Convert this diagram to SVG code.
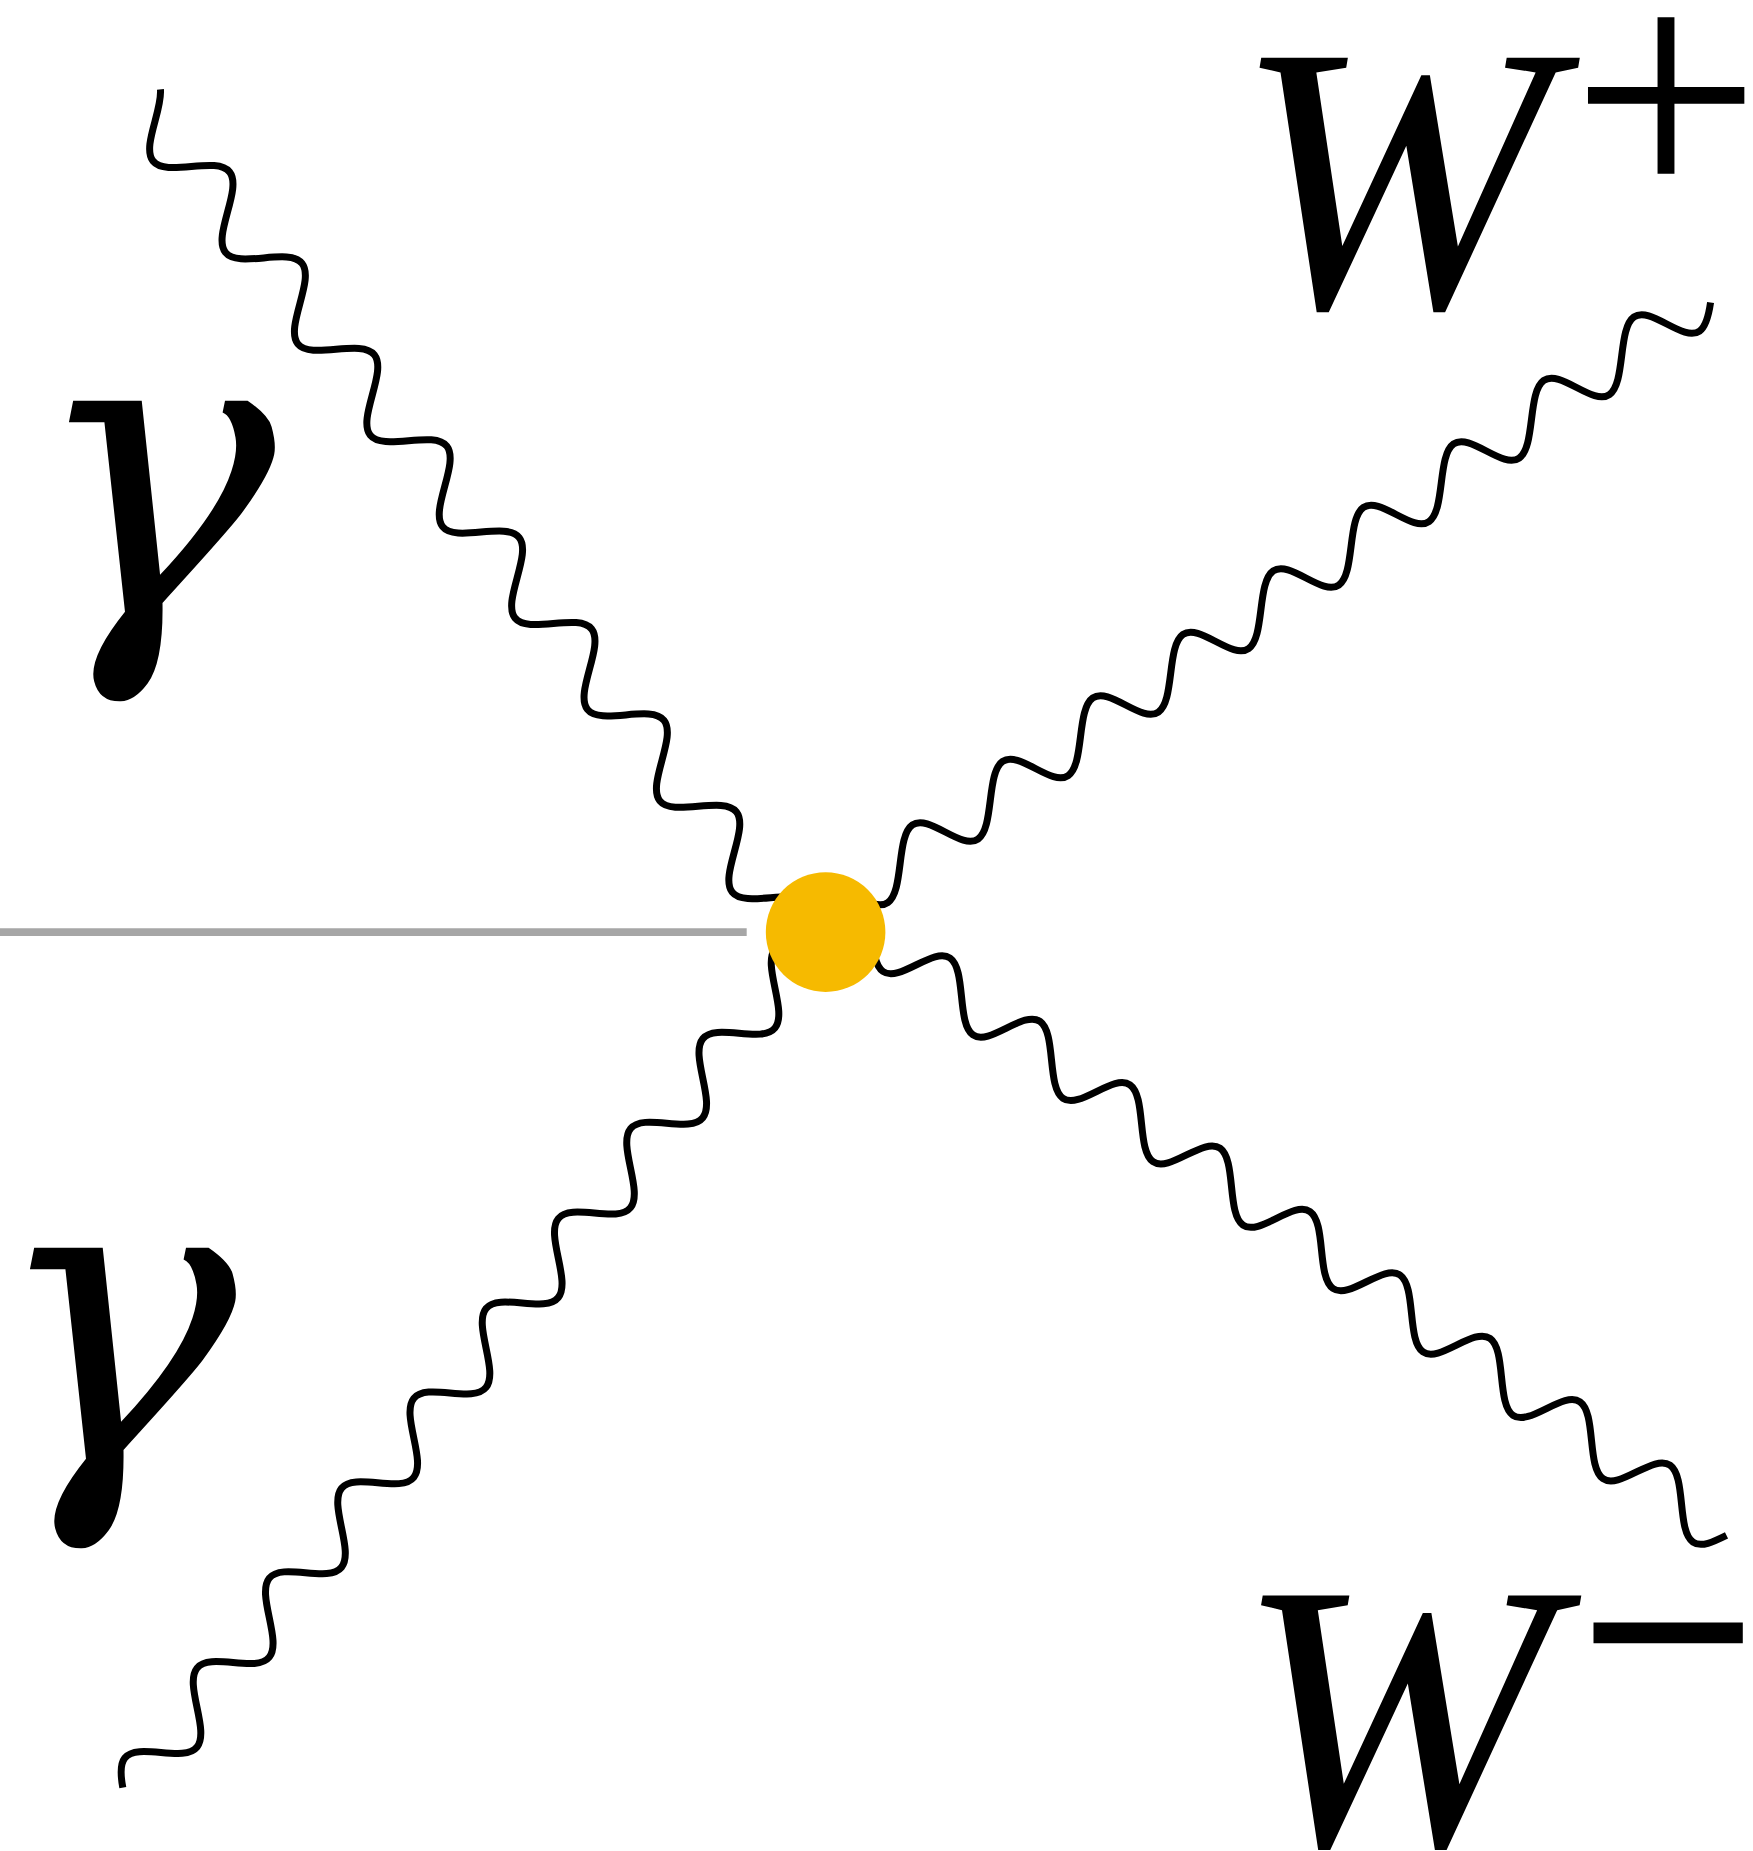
<svg xmlns="http://www.w3.org/2000/svg" width="1753" height="1851" viewBox="0 0 1753 1851">
<style>
.wave{fill:none;stroke:#000;stroke-width:7;stroke-linecap:butt;stroke-linejoin:round}
.lbl{font-family:"Liberation Serif","Times New Roman",serif;fill:#000}
.it{font-style:italic}
.gam{font-family:"DejaVu Serif",serif;font-style:italic;fill:#000}
</style>
<rect width="1753" height="1851" fill="#fff"/>
<g id="connectors">
<line id="gray-line" x1="0" y1="932.2" x2="746.7" y2="932.2" stroke="#a6a6a6" stroke-width="7.7"/>
<path id="photon-tl" class="wave" vector-effect="non-scaling-stroke" transform="matrix(18.1 22.85 20.2 -17.35 191.3 166.5)" d="M-2.7,.891 C-2.4667,.7246 -2.2333,.3665 -2,0
c.3261,-.5123 .6381,-1 1,-1 c.3619,0 .6739,.4877 1,1 c.3261,.5123 .6381,1 1,1 c.3619,0 .6739,-.4877 1,-1
c.3261,-.5123 .6381,-1 1,-1 c.3619,0 .6739,.4877 1,1 c.3261,.5123 .6381,1 1,1 c.3619,0 .6739,-.4877 1,-1
c.3261,-.5123 .6381,-1 1,-1 c.3619,0 .6739,.4877 1,1 c.3261,.5123 .6381,1 1,1 c.3619,0 .6739,-.4877 1,-1
c.3261,-.5123 .6381,-1 1,-1 c.3619,0 .6739,.4877 1,1 c.3261,.5123 .6381,1 1,1 c.3619,0 .6739,-.4877 1,-1
c.3261,-.5123 .6381,-1 1,-1 c.3619,0 .6739,.4877 1,1 c.3261,.5123 .6381,1 1,1 c.3619,0 .6739,-.4877 1,-1
c.3261,-.5123 .6381,-1 1,-1 c.3619,0 .6739,.4877 1,1 c.3261,.5123 .6381,1 1,1 c.3619,0 .6739,-.4877 1,-1
c.3261,-.5123 .6381,-1 1,-1 c.3619,0 .6739,.4877 1,1 c.3261,.5123 .6381,1 1,1 c.3619,0 .6739,-.4877 1,-1
c.3261,-.5123 .6381,-1 1,-1 c.3619,0 .6739,.4877 1,1 c.3261,.5123 .6381,1 1,1 c.3619,0 .6739,-.4877 1,-1
c.3261,-.5123 .6381,-1 1,-1 c.3619,0 .6739,.4877 1,1 c.3261,.5123 .6381,1 1,1"/>
<path id="photon-bl" class="wave" vector-effect="non-scaling-stroke" transform="matrix(18.0625 -22.475 18.05 17 160.9 1752.5)" d="M-1.8,-.309 C-1.5333,-.7074 -1.2667,-1 -1,-1
c.3619,0 .6739,.4877 1,1 c.3261,.5123 .6381,1 1,1 c.3619,0 .6739,-.4877 1,-1 c.3261,-.5123 .6381,-1 1,-1
c.3619,0 .6739,.4877 1,1 c.3261,.5123 .6381,1 1,1 c.3619,0 .6739,-.4877 1,-1 c.3261,-.5123 .6381,-1 1,-1
c.3619,0 .6739,.4877 1,1 c.3261,.5123 .6381,1 1,1 c.3619,0 .6739,-.4877 1,-1 c.3261,-.5123 .6381,-1 1,-1
c.3619,0 .6739,.4877 1,1 c.3261,.5123 .6381,1 1,1 c.3619,0 .6739,-.4877 1,-1 c.3261,-.5123 .6381,-1 1,-1
c.3619,0 .6739,.4877 1,1 c.3261,.5123 .6381,1 1,1 c.3619,0 .6739,-.4877 1,-1 c.3261,-.5123 .6381,-1 1,-1
c.3619,0 .6739,.4877 1,1 c.3261,.5123 .6381,1 1,1 c.3619,0 .6739,-.4877 1,-1 c.3261,-.5123 .6381,-1 1,-1
c.3619,0 .6739,.4877 1,1 c.3261,.5123 .6381,1 1,1 c.3619,0 .6739,-.4877 1,-1 c.3261,-.5123 .6381,-1 1,-1
c.3619,0 .6739,.4877 1,1 c.3261,.5123 .6381,1 1,1 c.3619,0 .6739,-.4877 1,-1 c.3261,-.5123 .6381,-1 1,-1
c.3619,0 .6739,.4877 1,1 c.3261,.5123 .6381,1 1,1 c.3619,0 .6739,-.4877 1,-1 c.3261,-.5123 .6381,-1 1,-1"/>
<path id="photon-tr" class="wave" vector-effect="non-scaling-stroke" transform="matrix(22.55 -15.875 10.25 22.9 945.2 832)" d="M-4,0
c.3261,.5123 .6381,1 1,1 c.3619,0 .6739,-.4877 1,-1 c.3261,-.5123 .6381,-1 1,-1 c.3619,0 .6739,.4877 1,1
c.3261,.5123 .6381,1 1,1 c.3619,0 .6739,-.4877 1,-1 c.3261,-.5123 .6381,-1 1,-1 c.3619,0 .6739,.4877 1,1
c.3261,.5123 .6381,1 1,1 c.3619,0 .6739,-.4877 1,-1 c.3261,-.5123 .6381,-1 1,-1 c.3619,0 .6739,.4877 1,1
c.3261,.5123 .6381,1 1,1 c.3619,0 .6739,-.4877 1,-1 c.3261,-.5123 .6381,-1 1,-1 c.3619,0 .6739,.4877 1,1
c.3261,.5123 .6381,1 1,1 c.3619,0 .6739,-.4877 1,-1 c.3261,-.5123 .6381,-1 1,-1 c.3619,0 .6739,.4877 1,1
c.3261,.5123 .6381,1 1,1 c.3619,0 .6739,-.4877 1,-1 c.3261,-.5123 .6381,-1 1,-1 c.3619,0 .6739,.4877 1,1
c.3261,.5123 .6381,1 1,1 c.3619,0 .6739,-.4877 1,-1 c.3261,-.5123 .6381,-1 1,-1 c.3619,0 .6739,.4877 1,1
c.3261,.5123 .6381,1 1,1 c.3619,0 .6739,-.4877 1,-1 c.3261,-.5123 .6381,-1 1,-1 c.3619,0 .6739,.4877 1,1
c.3261,.5123 .6381,1 1,1 c.3619,0 .6739,-.4877 1,-1 c.3261,-.5123 .6381,-1 1,-1 c.3619,0 .6739,.4877 1,1
c.3261,.5123 .6381,1 1,1 c.2667,0 .5333,-.2926 .8,-.691"/>
<path id="photon-br" class="wave" vector-effect="non-scaling-stroke" transform="matrix(22.5 15.85 11 -22.6 916.5 964.75)" d="M-2,0
c.3261,-.5123 .6381,-1 1,-1 c.3619,0 .6739,.4877 1,1 c.3261,.5123 .6381,1 1,1 c.3619,0 .6739,-.4877 1,-1
c.3261,-.5123 .6381,-1 1,-1 c.3619,0 .6739,.4877 1,1 c.3261,.5123 .6381,1 1,1 c.3619,0 .6739,-.4877 1,-1
c.3261,-.5123 .6381,-1 1,-1 c.3619,0 .6739,.4877 1,1 c.3261,.5123 .6381,1 1,1 c.3619,0 .6739,-.4877 1,-1
c.3261,-.5123 .6381,-1 1,-1 c.3619,0 .6739,.4877 1,1 c.3261,.5123 .6381,1 1,1 c.3619,0 .6739,-.4877 1,-1
c.3261,-.5123 .6381,-1 1,-1 c.3619,0 .6739,.4877 1,1 c.3261,.5123 .6381,1 1,1 c.3619,0 .6739,-.4877 1,-1
c.3261,-.5123 .6381,-1 1,-1 c.3619,0 .6739,.4877 1,1 c.3261,.5123 .6381,1 1,1 c.3619,0 .6739,-.4877 1,-1
c.3261,-.5123 .6381,-1 1,-1 c.3619,0 .6739,.4877 1,1 c.3261,.5123 .6381,1 1,1 c.3619,0 .6739,-.4877 1,-1
c.3261,-.5123 .6381,-1 1,-1 c.3619,0 .6739,.4877 1,1 c.3261,.5123 .6381,1 1,1 c.3619,0 .6739,-.4877 1,-1
c.3261,-.5123 .6381,-1 1,-1 c.3619,0 .6739,.4877 1,1 c.3261,.5123 .6381,1 1,1 c.3619,0 .6739,-.4877 1,-1
c.3261,-.5123 .6381,-1 1,-1 c.3619,0 .6739,.4877 1,1"/>
</g>
<g id="vertex">
<circle cx="825.6" cy="932.1" r="59.8" fill="#f6ba00"/>
</g>
<g id="label-gamma-top">
<text class="gam" x="29" y="615" font-size="413">γ</text>
</g>
<g id="label-gamma-bottom">
<text class="gam" x="-10" y="1462" font-size="413">γ</text>
</g>
<g id="label-w-plus">
<text class="lbl it" x="1234.5" y="306.6" font-size="380">W</text>
<text class="lbl" x="1666" y="207" font-size="336" text-anchor="middle">+</text>
</g>
<g id="label-w-minus">
<text class="lbl it" x="1236" y="1844.3" font-size="380">W</text>
<text class="lbl" x="1668" y="1735.5" font-size="309" text-anchor="middle" stroke="#000" stroke-width="5.5">−</text>
</g>
</svg>
